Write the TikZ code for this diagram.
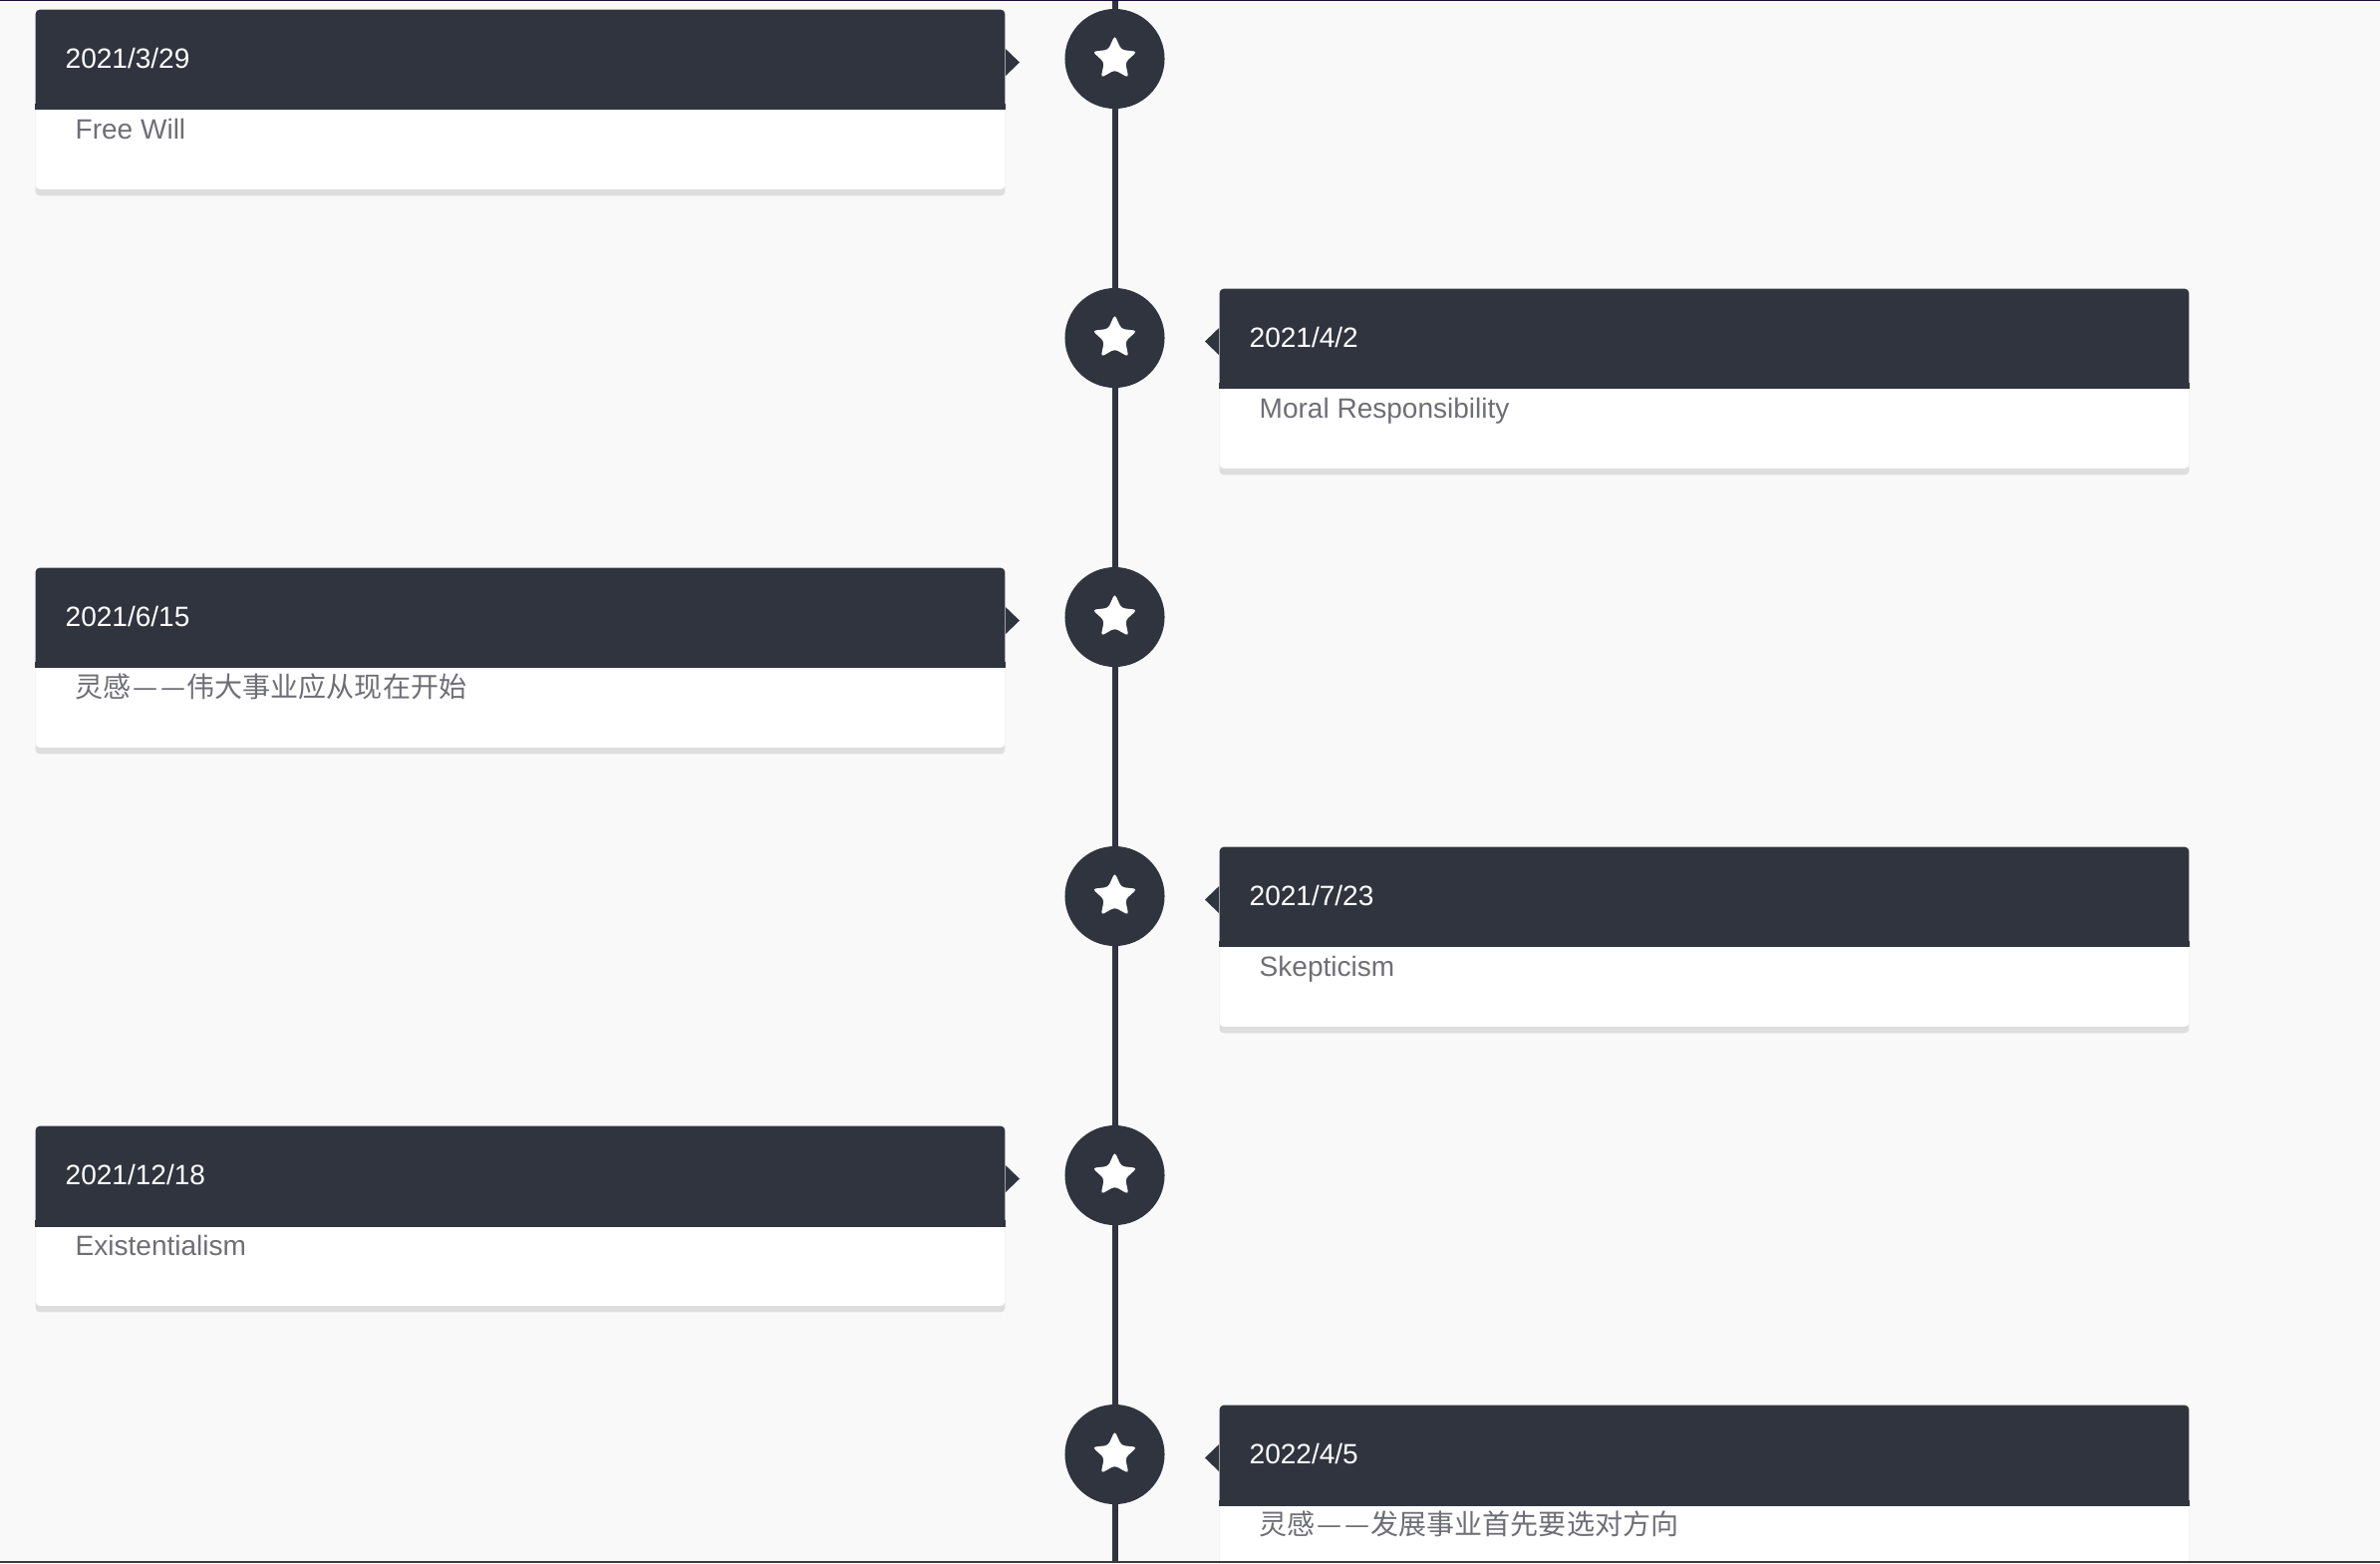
\documentclass[tikz,border=0pt]{standalone}
\usepackage{fontspec}
\setmainfont{Liberation Sans}
\newfontfamily\cjk{Noto Sans CJK SC}
\usepackage{xcolor}
\usepackage{tikz}
\usetikzlibrary{shapes.geometric, shadows}

\definecolor{tlDark}{HTML}{30343F}
\definecolor{tlText}{HTML}{6E6E76}
\definecolor{tlBg}{HTML}{F9F9F9}
\definecolor{tlShadow}{HTML}{DEDEDE}
\definecolor{topBar}{HTML}{1E0B3A}
\definecolor{bottomBar}{HTML}{3B3B3B}

% full-width dash cell
\newcommand{\wdash}{\makebox[1em][c]{—}}

\begin{document}
\begin{tikzpicture}[x=0.01cm, y=-0.01cm,
    card/.style={rectangle, fill=white, rounded corners=0.04cm, anchor=north west, inner sep=0pt,
        minimum width=9.72cm, minimum height=1.8cm,
        drop shadow={shadow xshift=0cm, shadow yshift=-0.065cm, fill=tlShadow, opacity=1}},
    head/.style={rectangle, fill=tlDark, rounded corners=0.04cm, anchor=north west,
        minimum width=9.72cm, minimum height=1cm, inner xsep=0.3cm, inner ysep=0pt,
        text width=9.12cm, align=left, text height=0.2cm, text depth=0.02cm,
        text=white, font=\fontsize{7.97pt}{9.6pt}\selectfont},
    txt/.style={anchor=base west, inner sep=0pt, text=tlText, font=\fontsize{7.97pt}{9.6pt}\selectfont},
    dot/.style={circle, fill=tlDark, inner sep=0pt, minimum size=1cm},
    starmark/.style={star, star points=5, star point ratio=2.1, fill=white, inner sep=0pt,
        minimum size=0.47cm, rounded corners=0.035cm}]
    \clip (0,0) rectangle (2388,1568);
    \fill[tlBg] (0,0) rectangle (2388,1568);

    % timeline
    \coordinate (lineTop) at (1118.5,0);
    \coordinate (lineEnd) at (1118.5,1568);
    \draw[tlDark, line width=0.06cm] (lineTop) -- (lineEnd);

    % left cards
    \node[card] (c1) at (35,9) {};
    \node[head] (h1) at (c1.north west) {2021/3/29};
    \fill[tlDark] (h1.south west) rectangle ([yshift=0.06cm]h1.south east);
    \fill[tlDark] ([yshift=-0.4cm]h1.north east) -- ++(14,13.5) -- ++(-14,13.5) -- cycle;
    \node[txt] (t1) at ([shift={(40,130)}]c1.north west) {Free Will};

    \node[card] (c3) at (35,569) {};
    \node[head] (h3) at (c3.north west) {2021/6/15};
    \fill[tlDark] (h3.south west) rectangle ([yshift=0.06cm]h3.south east);
    \fill[tlDark] ([yshift=-0.4cm]h3.north east) -- ++(14,13.5) -- ++(-14,13.5) -- cycle;
    \node[txt] (t3) at ([shift={(40,130)}]c3.north west) {\cjk 灵感\wdash\wdash 伟大事业应从现在开始};

    \node[card] (c5) at (35,1129) {};
    \node[head] (h5) at (c5.north west) {2021/12/18};
    \fill[tlDark] (h5.south west) rectangle ([yshift=0.06cm]h5.south east);
    \fill[tlDark] ([yshift=-0.4cm]h5.north east) -- ++(14,13.5) -- ++(-14,13.5) -- cycle;
    \node[txt] (t5) at ([shift={(40,130)}]c5.north west) {Existentialism};

    % right cards
    \node[card] (c2) at (1223,289) {};
    \node[head] (h2) at (c2.north west) {2021/4/2};
    \fill[tlDark] (h2.south west) rectangle ([yshift=0.06cm]h2.south east);
    \fill[tlDark] ([yshift=-0.4cm]h2.north west) -- ++(-14,13.5) -- ++(14,13.5) -- cycle;
    \node[txt] (t2) at ([shift={(40,130)}]c2.north west) {Moral Responsibility};

    \node[card] (c4) at (1223,849) {};
    \node[head] (h4) at (c4.north west) {2021/7/23};
    \fill[tlDark] (h4.south west) rectangle ([yshift=0.06cm]h4.south east);
    \fill[tlDark] ([yshift=-0.4cm]h4.north west) -- ++(-14,13.5) -- ++(14,13.5) -- cycle;
    \node[txt] (t4) at ([shift={(40,130)}]c4.north west) {Skepticism};

    \node[card] (c6) at (1223,1409) {};
    \node[head] (h6) at (c6.north west) {2022/4/5};
    \fill[tlDark] (h6.south west) rectangle ([yshift=0.06cm]h6.south east);
    \fill[tlDark] ([yshift=-0.4cm]h6.north west) -- ++(-14,13.5) -- ++(14,13.5) -- cycle;
    \node[txt] (t6) at ([shift={(40,130)}]c6.north west) {\cjk 灵感\wdash\wdash 发展事业首先要选对方向};

    % star markers on the line
    \node[dot] (d1) at (1118.5,59) {};
    \node[dot] (d2) at (1118.5,339) {};
    \node[dot] (d3) at (1118.5,619) {};
    \node[dot] (d4) at (1118.5,899) {};
    \node[dot] (d5) at (1118.5,1179) {};
    \node[dot] (d6) at (1118.5,1459) {};
    \node[starmark] (s1) at (d1) {};
    \node[starmark] (s2) at (d2) {};
    \node[starmark] (s3) at (d3) {};
    \node[starmark] (s4) at (d4) {};
    \node[starmark] (s5) at (d5) {};
    \node[starmark] (s6) at (d6) {};

    % page edges
    \fill[topBar] (0,0) rectangle (2388,1.3);
    \fill[bottomBar] (0,1565.5) rectangle (2388,1568);
\end{tikzpicture}
\end{document}
